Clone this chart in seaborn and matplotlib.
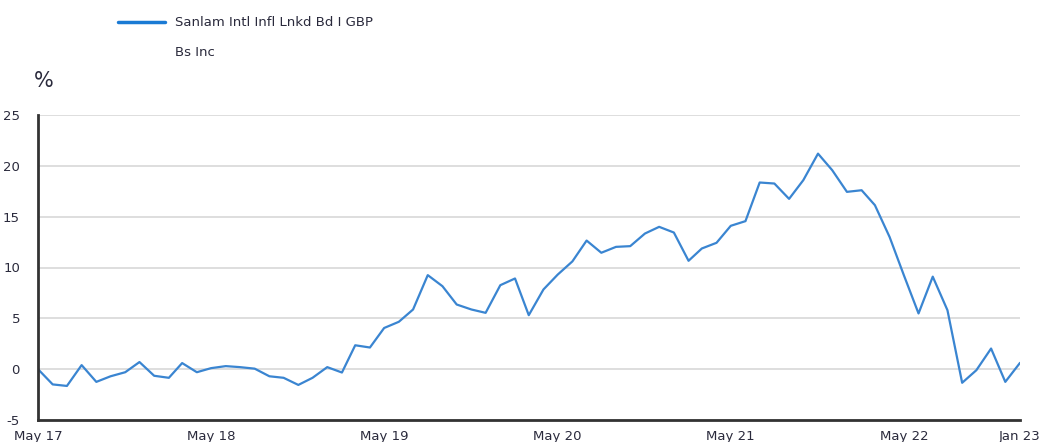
import matplotlib
matplotlib.use("Agg")
import matplotlib.pyplot as plt
import seaborn as sns
import pandas as pd
import numpy as np

values = [0.0, -1.5, -1.65, 0.4, -1.25, -0.7, -0.3, 0.7, -0.65, -0.85,
          0.6, -0.3, 0.1, 0.3, 0.2, 0.05, -0.7, -0.85, -1.55, -0.85,
          0.2, -0.33, 2.35, 2.13, 4.05, 4.66, 5.87, 9.25, 8.16, 6.36,
          5.87, 5.54, 8.26, 8.92, 5.31, 7.84, 9.3, 10.6, 12.65, 11.45,
          12.03, 12.1, 13.34, 14.0, 13.44, 10.66, 11.87, 12.43, 14.1, 14.56,
          18.36, 18.26, 16.75, 18.59, 21.2, 19.57, 17.44, 17.6, 16.13, 13.0,
          9.25, 5.48, 9.1, 5.8, -1.34, -0.1, 2.03, -1.25, 0.62]
dates = pd.date_range("2017-05-01", periods=len(values), freq="MS")
tick_dates = pd.to_datetime(["2017-05-01", "2018-05-01", "2019-05-01", "2020-05-01",
                             "2021-05-01", "2022-05-01", "2023-01-01"])
tick_labels = ["May 17", "May 18", "May 19", "May 20", "May 21", "May 22", "Jan 23"]
y_ticks = [-5, 0, 5, 10, 15, 20, 25]
legend_line1 = "Sanlam Intl Infl Lnkd Bd I GBP"
legend_line2 = "Bs Inc"

df = pd.DataFrame({"date": dates, "value": values})

sns.set_theme(style="white")
plt.rcParams["font.family"] = ["DejaVu Sans"]

fig = plt.figure(figsize=(10.43, 4.42), dpi=100)
ax = fig.add_axes([38 / 1043, 1 - 420 / 442, (1020 - 38) / 1043, (420 - 115) / 442])

line_color = "#3a85d1"
sns.lineplot(data=df, x="date", y="value", ax=ax, color=line_color, linewidth=1.6)

ax.set_xlim(dates[0], dates[-1])
ax.set_ylim(-5, 25)
ax.set_yticks(y_ticks)
ax.set_yticklabels([str(v) for v in y_ticks])
ax.set_xticks(tick_dates)
ax.set_xticklabels(tick_labels)
ax.set_xlabel("")
ax.set_ylabel("")

text_color = "#2a2a3c"
ax.tick_params(axis="both", labelsize=9.5, colors=text_color, length=0)
ax.tick_params(axis="y", pad=13)
ax.tick_params(axis="x", pad=7)
for lbl in ax.get_xticklabels() + ax.get_yticklabels():
    lbl.set_color(text_color)

ax.grid(axis="y", color="#d8d8d8", linewidth=1.2)
ax.grid(axis="x", visible=False)
for s in ["top", "right"]:
    ax.spines[s].set_visible(False)
for s in ["left", "bottom"]:
    ax.spines[s].set_color("#333333")
    ax.spines[s].set_linewidth(2)

# legend drawn as figure text
fig.lines.append(plt.Line2D([118 / 1043, 165 / 1043], [1 - 22 / 442, 1 - 22 / 442],
                            transform=fig.transFigure, color="#1a7ad4", linewidth=2.5))
fig.text(175 / 1043, 1 - 22 / 442, legend_line1, fontsize=9.5,
         va="center", ha="left", color=text_color)
fig.text(175 / 1043, 1 - 52 / 442, legend_line2, fontsize=9.5, va="center", ha="left",
         color=text_color)
fig.text(34 / 1043, 1 - 81 / 442, "%", fontsize=15, va="center", ha="left",
         color=text_color)

fig.savefig("out.png", dpi=100)
